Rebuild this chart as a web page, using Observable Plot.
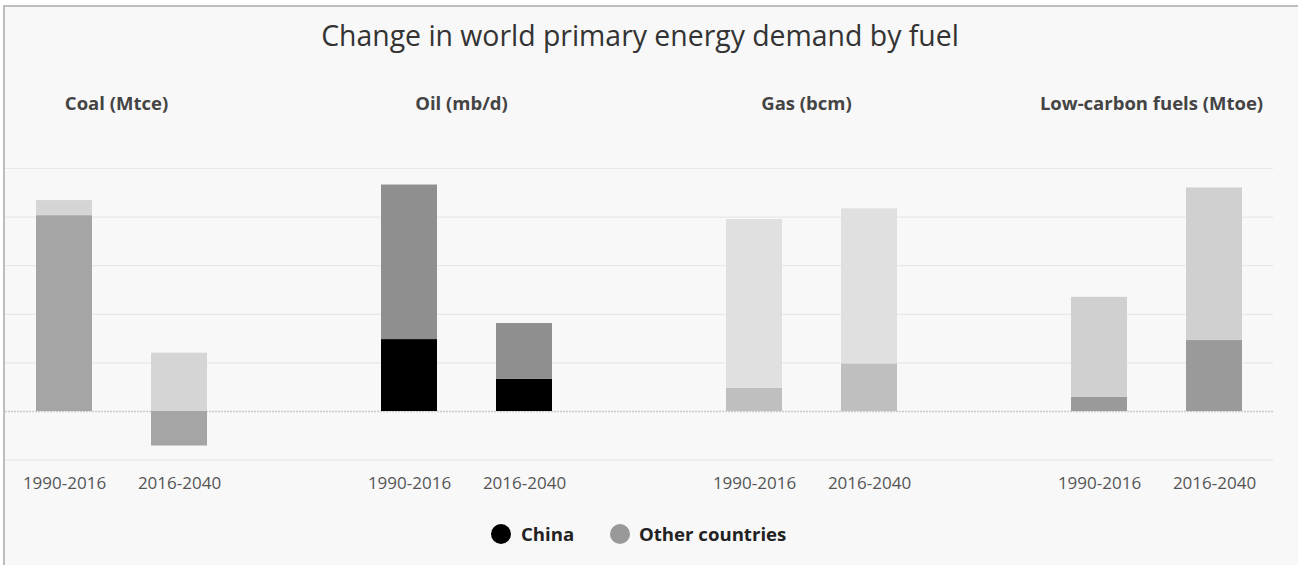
<!DOCTYPE html>
<html>
<head>
<meta charset="utf-8">
<script src="https://cdn.jsdelivr.net/npm/d3@7"></script>
<script src="https://cdn.jsdelivr.net/npm/@observablehq/plot@0.6"></script>
<style>
  html, body { margin: 0; padding: 0; background: #ffffff; }
  #frame {
    position: absolute; left: 3px; top: 5px; width: 1295px; height: 560px;
    background: #f8f8f8; border-left: 2px solid #bdbdbd; border-top: 2px solid #bdbdbd;
    box-sizing: border-box;
  }
  #title {
    position: absolute; left: 0; top: 19px; width: 1280px; text-align: center;
    font-family: "Open Sans", sans-serif; font-size: 28.4px; line-height: 32px; color: #333;
  }
  #chart { position: absolute; left: 0; top: 0; }
  .swatch { position: absolute; width: 20px; height: 20px; border-radius: 50%; top: 524px; }
  .lg {
    position: absolute; top: 522px; line-height: 24px;
    font-family: "Open Sans", sans-serif; font-weight: bold; font-size: 18.6px; color: #222;
  }
</style>
</head>
<body>
<div id="frame"></div>
<div id="title">Change in world primary energy demand by fuel</div>
<div id="chart"></div>
<div class="swatch" style="left:491px;background:#000;"></div>
<div class="lg" style="left:521px;">China</div>
<div class="swatch" style="left:610px;background:#999;"></div>
<div class="lg" style="left:639px;">Other countries</div>
<script>
// Fuels, periods and the change in demand split by region (in grid steps of each fuel's own unit)
const fuels = ["Coal (Mtce)", "Oil (mb/d)", "Gas (bcm)", "Low-carbon fuels (Mtoe)"];
const periods = ["1990-2016", "2016-2040"];
const chinaChange = [[4.03, -0.71], [1.48, 0.66], [0.48, 0.98], [0.29, 1.46]];
const otherChange = [[0.31, 1.20], [3.18, 1.15], [3.47, 3.19], [2.06, 3.14]];
// Each fuel panel has its own pair of greys
const chinaShade = ["#a5a5a5", "#000000", "#bfbfbf", "#9a9a9a"];
const otherShade = ["#d5d5d5", "#8f8f8f", "#e0e0e0", "#d0d0d0"];
const gridLines = [-1, 1, 2, 3, 4, 5];

const rows = [];
const xDomain = [];
fuels.forEach((fuel, i) => {
  periods.forEach((period, j) => {
    const key = fuel + "|" + period;
    xDomain.push(key);
    rows.push({key, region: "China", value: chinaChange[i][j], shade: chinaShade[i]});
    rows.push({key, region: "Other countries", value: otherChange[i][j], shade: otherShade[i]});
  });
  if (i < fuels.length - 1) xDomain.push("gap" + i);
});

const chart = Plot.plot({
  width: 1298,
  height: 565,
  marginLeft: 5,
  marginRight: 25,
  marginTop: 130,
  marginBottom: 100,
  style: {background: "transparent", fontFamily: "Open Sans", fontSize: "17px", color: "#555"},
  x: {
    domain: xDomain,
    paddingInner: 0.514,
    paddingOuter: 0.26,
    tickSize: 0,
    tickPadding: 11,
    tickFormat: d => d.includes("|") ? d.split("|")[1] : "",
    label: null
  },
  y: {domain: [-1.111, 5.782], axis: null},
  color: {type: "identity"},
  marks: [
    Plot.ruleY(gridLines, {stroke: "#e7e7e7", strokeWidth: 1.2}),
    Plot.ruleY([0], {stroke: "#cacaca", strokeWidth: 1.4, strokeDasharray: "2,1"}),
    Plot.barY(rows, {x: "key", y: "value", z: "region", fill: "shade"}),
    Plot.text(fuels, {
      x: d => d + "|1990-2016",
      frameAnchor: "top",
      lineAnchor: "middle",
      dy: -26,
      dx: 52,
      text: d => d,
      fontWeight: "bold",
      fontSize: 18.5,
      fill: "#444"
    })
  ]
});
document.getElementById("chart").appendChild(chart);
</script>
</body>
</html>
